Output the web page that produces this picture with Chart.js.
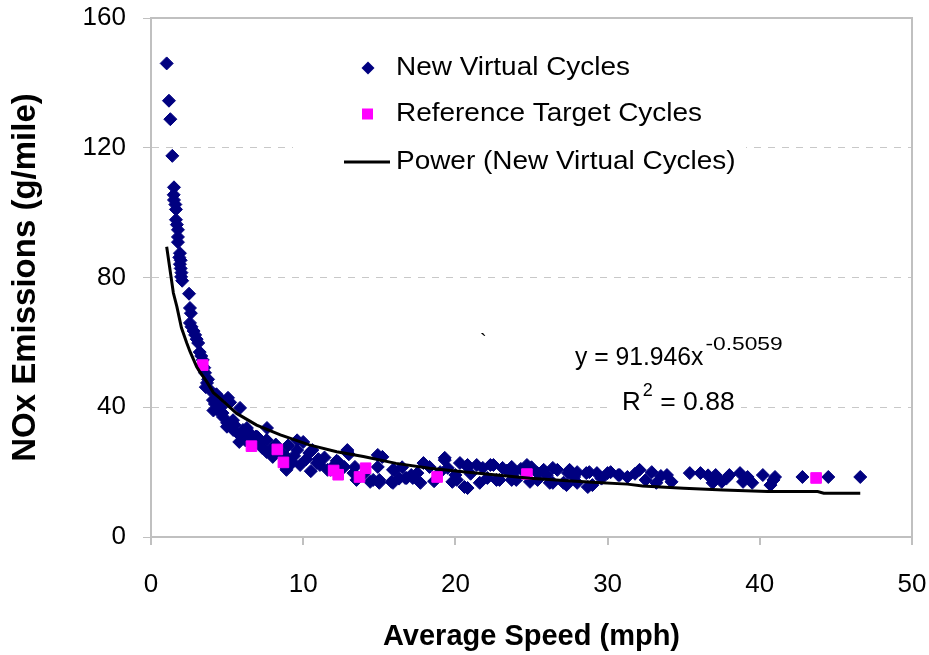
<!DOCTYPE html>
<html>
<head>
<meta charset="utf-8">
<script src="https://cdn.jsdelivr.net/npm/chart.js@4.4.0/dist/chart.umd.min.js"></script>
<style>
html,body{margin:0;padding:0;background:#fff;}
#wrap{width:929px;height:655px;}
</style>
</head>
<body>
<div id="wrap"><canvas id="c" width="929" height="655"></canvas></div>
<script>
// ---- data ----
const virtualX = [1.03,1.18,1.27,1.40,1.51,1.49,1.51,1.60,1.64,1.64,1.70,1.77,1.77,1.77,1.90,1.86,1.95,1.90,1.95,2.00,1.98,2.05,2.50,2.56,2.62,2.56,2.66,2.90,2.80,3.10,3.00,3.20,3.30,3.40,3.50,3.55,3.68,3.75,3.88,3.60,4.07,4.30,4.50,4.20,5.06,5.20,4.34,4.10,4.60,5.85,4.73,4.70,5.39,5.00,4.99,5.50,6.04,6.50,6.30,5.40,5.80,7.62,6.70,7.00,7.16,7.60,5.80,6.20,7.30,10.0,9.6,9.0,7.8,7.6,8.0,8.6,8.9,8.9,8.9,9.3,9.6,9.8,10.4,10.6,10.2,10.9,11.1,10.5,11.6,11.8,11.4,12.2,12.9,12.9,12.7,12.3,13.4,13.3,13.5,14.0,14.6,14.9,14.9,15.0,15.2,15.0,14.4,15.9,15.9,15.8,16.3,16.8,16.7,17.1,17.2,17.5,17.7,17.9,18.3,18.6,19.3,19.3,19.5,19.8,20.0,20.1,20.3,20.6,20.8,20.8,20.8,21.4,21.6,21.8,22.1,22.3,22.5,22.7,22.9,23.1,23.7,23.7,23.8,24.0,24.7,24.9,25.4,25.4,25.8,26.2,26.4,26.4,26.7,27.1,27.3,27.4,27.5,28.0,28.0,28.6,28.7,28.8,29.0,29.3,30.0,30.2,30.7,30.8,31.3,32.1,32.5,32.9,33.2,33.9,34.2,35.4,36.1,36.9,37.1,37.5,38.0,38.7,38.9,39.5,40.2,40.7,40.9,42.8,44.5,46.6,13.0,16.0,16.5,19.0,21.0,23.4,24.3,25.0,26.0,27.8,29.6,31.8,33.5,36.6,37.8,39.2,41.0,11.0,12.0,9.4,8.2,6.9];
const virtualY = [146,134.5,128.8,117.5,107.8,105.5,103.9,102.5,101.0,97.8,96.3,94.7,92.5,90.9,87.5,86.2,85.3,84.1,82.8,81.5,80.2,79.0,75.0,70.6,69.0,66.0,64.8,62.3,63.5,59.8,61.0,57.0,55.8,54.6,52.2,50.6,47.5,48.6,45.3,46.2,42.2,44.0,42.9,41.0,42.9,41.5,39.2,39.0,40.0,39.8,37.0,38.2,36.0,35.2,34.0,34.5,33.0,32.0,33.6,33.0,31.5,33.6,30.0,30.8,29.0,29.9,29.3,29.8,27.5,29.3,29.8,28.2,26.8,26.2,24.7,25.8,24.7,20.7,21.3,23.0,26.8,22.2,25.9,26.8,24.0,22.8,22.2,20.3,20.7,20.7,24.5,23.5,26.8,26.2,21.6,23.1,21.6,19.7,17.6,19.5,17.6,25.3,21.6,16.7,24.7,17.6,17.0,20.7,16.7,17.0,18.0,18.2,18.2,19.1,18.2,19.7,16.7,22.8,21.6,17.2,24.4,23.7,21.3,17.0,19.1,17.6,22.8,15.4,15.1,21.6,22.2,22.2,16.7,21.3,18.2,22.2,22.2,17.6,17.6,21.3,21.6,17.6,19.7,17.6,22.2,17.0,19.7,17.6,20.7,16.7,21.3,16.7,20.7,16.7,16.0,19.7,20.7,20.0,16.7,19.7,15.4,20.0,16.0,19.7,19.7,20.0,19.1,19.1,18.5,20.7,17.6,20.0,16.7,19.1,17.0,19.7,19.7,16.7,19.1,17.0,19.1,19.7,17.0,16.7,19.1,16.0,17.6,18.5,18.5,18.5,25.5,20.5,21.5,20.0,19.5,20.5,21.0,21.5,19.0,18.5,18.0,19.5,18.8,19.0,18.0,18.5,18.5,24.0,22.0,25.0,28.5,31.0];

const referenceX = [3.4,6.6,8.3,8.7,12.0,12.3,13.7,14.1,18.8,24.7,43.7];
const referenceY = [53.0,28.0,27.0,23.0,20.5,19.2,18.5,21.2,18.5,19.4,18.2];

const trendX = [1.03,1.47,1.7,2.0,2.35,2.56,3.0,3.2,3.66,4.1,4.5,5.63,6.94,8.5,10.4,12.2,13.95,16.1,18.3,20.5,22.7,24.9,27.1,29.3,31.3,32.3,35.0,37.6,40.5,43.8,44.2,46.6];
const trendY = [89.5,75.2,71.0,64.5,59.8,57.2,52.5,51.0,47.9,44.5,42.9,38.1,34.5,31.5,28.4,26.3,24.8,22.7,21.2,20.1,19.1,18.1,17.4,16.8,16.3,15.7,15.0,14.5,14.0,14.0,13.5,13.5];

const xTicks = [0,10,20,30,40,50];
const yTicks = [0,40,80,120,160];

const seriesNames = ['New Virtual Cycles','Reference Target Cycles','Power (New Virtual Cycles)'];
const equationText = 'y = 91.946x';
const equationExp = '-0.5059';
const r2Text = ['R', '2', ' = 0.88'];
const xTitle = 'Average Speed (mph)';
const yTitle = 'NOx Emissions (g/mile)';

// ---- build chart ----
const pts = (xs, ys) => xs.map((x, i) => ({x: x, y: ys[i]}));
const FONT = '"Liberation Sans", Arial, sans-serif';
const NAVY = '#000080', MAG = '#FF00FF', GRID = '#c0c0c0';

function stretchText(ctx, t, x, y, sx) {
  ctx.save();
  ctx.translate(x, y);
  ctx.scale(sx, 1);
  ctx.fillText(t, 0, 0);
  const w = ctx.measureText(t).width * sx;
  ctx.restore();
  return w;
}

const decor = {
  id: 'decor',
  beforeDatasetsDraw(chart) {
    const a = chart.chartArea, ctx = chart.ctx;
    ctx.save();
    ctx.strokeStyle = GRID; ctx.lineWidth = 2;
    ctx.beginPath();
    ctx.moveTo(a.left, a.top); ctx.lineTo(a.right, a.top); ctx.lineTo(a.right, a.bottom);
    ctx.stroke();
    // legend background box
    ctx.fillStyle = '#fff';
    ctx.fillRect(293, 44, 453, 142);
    // R2 label background over gridline
    ctx.fillRect(613, 385, 128, 30);
    ctx.restore();
  },
  afterDatasetsDraw(chart) {
    const ctx = chart.ctx;
    ctx.save();
    ctx.fillStyle = '#000';
    ctx.textBaseline = 'middle';
    ctx.font = '26px ' + FONT;
    // legend
    const tx = 396;
    const ys = [68, 114, 162];
    ctx.fillStyle = NAVY;
    ctx.beginPath();
    ctx.moveTo(368, ys[0] - 6.5); ctx.lineTo(374.5, ys[0]); ctx.lineTo(368, ys[0] + 6.5); ctx.lineTo(361.5, ys[0]);
    ctx.closePath(); ctx.fill();
    ctx.fillStyle = MAG;
    ctx.fillRect(362, ys[1] - 5.5, 11, 11);
    ctx.strokeStyle = '#000'; ctx.lineWidth = 3;
    ctx.beginPath(); ctx.moveTo(344, ys[2]); ctx.lineTo(390, ys[2]); ctx.stroke();
    ctx.fillStyle = '#000';
    seriesNames.forEach((n, i) => stretchText(ctx, n, tx, ys[i], 1.075));
    // equation
    ctx.textBaseline = 'alphabetic';
    ctx.font = '26px ' + FONT;
    const w = stretchText(ctx, equationText, 575, 365, 0.95);
    ctx.font = '19px ' + FONT;
    stretchText(ctx, equationExp, 575 + w + 2, 350, 1.2);
    ctx.font = '26px ' + FONT;
    const w2 = stretchText(ctx, r2Text[0], 622, 410, 1.0);
    ctx.font = '18px ' + FONT;
    const w3 = stretchText(ctx, r2Text[1], 622 + w2 + 2, 396, 1.0);
    ctx.font = '26px ' + FONT;
    stretchText(ctx, r2Text[2], 622 + w2 + w3 + 2, 410, 1.02);
    ctx.font = '20px ' + FONT;
    ctx.fillText('`', 480, 348);
    ctx.restore();
  }
};

new Chart(document.getElementById('c'), {
  type: 'scatter',
  data: {
    datasets: [
      {
        label: seriesNames[2],
        data: pts(trendX, trendY),
        showLine: true,
        borderColor: '#000',
        borderWidth: 3,
        pointRadius: 0,
        tension: 0,
        fill: false
      },
      {
        label: seriesNames[1],
        data: pts(referenceX, referenceY),
        pointStyle: 'rect',
        pointRadius: 7.5,
        backgroundColor: MAG,
        borderColor: MAG,
        borderWidth: 1
      },
      {
        label: seriesNames[0],
        data: pts(virtualX, virtualY),
        pointStyle: 'rectRot',
        pointRadius: 6.5,
        backgroundColor: NAVY,
        borderColor: NAVY,
        borderWidth: 1
      }
    ]
  },
  options: {
    responsive: false,
    animation: false,
    devicePixelRatio: 1,
    layout: {padding: {left: 0, right: 17, top: 18, bottom: 0}},
    plugins: {legend: {display: false}, tooltip: {enabled: false}},
    scales: {
      x: {
        type: 'linear', min: 0, max: 50,
        afterFit(s) { s.height = 118; s.paddingLeft = 0; s.paddingRight = 0; },
        afterBuildTicks(s) { s.ticks = xTicks.map(v => ({value: v})); },
        ticks: {color: '#000', font: {family: FONT, size: 26}, padding: 24},
        grid: {drawOnChartArea: false, drawTicks: true, tickLength: 8, color: GRID, tickColor: GRID, lineWidth: 2},
        border: {color: GRID, width: 2},
        title: {display: true, text: xTitle, color: '#000', font: {family: FONT, size: 29, weight: 'bold'}, padding: {top: 0, bottom: 1}}
      },
      y: {
        type: 'linear', min: 0, max: 160,
        afterFit(s) { s.width = 151; s.paddingTop = 0; s.paddingBottom = 0; },
        afterBuildTicks(s) { s.ticks = yTicks.map(v => ({value: v})); },
        ticks: {color: '#000', font: {family: FONT, size: 26}, padding: 17},
        grid: {drawOnChartArea: true, drawTicks: true, tickLength: 8, color: '#c8c8c8', tickColor: GRID, lineWidth: 1},
        border: {color: GRID, width: 2, dash: [7, 7]},
        title: {display: true, text: yTitle, color: '#000', font: {family: FONT, size: 33, weight: 'bold'}, padding: {top: 6, bottom: 0}}
      }
    }
  },
  plugins: [decor]
});
</script>
</body>
</html>
